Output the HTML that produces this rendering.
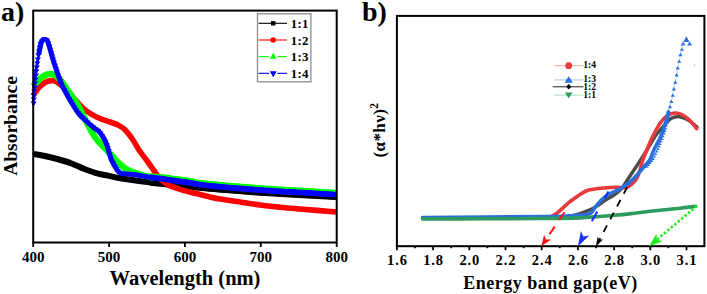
<!DOCTYPE html>
<html><head><meta charset="utf-8"><style>
html,body{margin:0;padding:0;background:#fff;}
svg{display:block;}
</style></head><body>
<svg width="707" height="294" viewBox="0 0 707 294">
<rect width="707" height="294" fill="#fff"/>
<text x="1" y="20.5" font-family="Liberation Serif, serif" font-weight="bold" font-size="28">a)</text>
<path d="M33.40,154.00 C35.10,154.28 39.63,154.87 43.60,155.70 C47.57,156.53 52.65,157.75 57.20,159.00 C61.75,160.25 66.35,161.53 70.90,163.20 C75.45,164.87 79.97,167.25 84.50,169.00 C89.03,170.75 94.18,172.60 98.10,173.70 C102.02,174.80 104.73,174.92 108.00,175.60 C111.27,176.28 114.53,177.20 117.70,177.80 C120.87,178.40 123.15,178.63 127.00,179.20 C130.85,179.77 136.97,180.68 140.80,181.20 C144.63,181.72 146.20,181.90 150.00,182.30 C153.80,182.70 159.07,183.15 163.60,183.60 C168.13,184.05 170.30,184.28 177.20,185.00 C184.10,185.72 190.37,186.63 205.00,187.90 C219.63,189.17 243.17,191.15 265.00,192.60 C286.83,194.05 324.17,195.93 336.00,196.60" fill="none" stroke="#000" stroke-width="6" stroke-linejoin="round" stroke-linecap="butt"/>
<path d="M150.00,182.30 C152.27,182.52 159.07,183.15 163.60,183.60 C168.13,184.05 170.30,184.28 177.20,185.00 C184.10,185.72 190.37,186.63 205.00,187.90 C219.63,189.17 243.17,191.15 265.00,192.60 C286.83,194.05 324.17,195.93 336.00,196.60" fill="none" stroke="#000" stroke-width="6.8" stroke-linejoin="round" stroke-linecap="butt"/>
<path d="M33.00,96.00 C33.92,94.67 36.50,90.25 38.50,88.00 C40.50,85.75 42.92,83.73 45.00,82.50 C47.08,81.27 49.17,80.77 51.00,80.60 C52.83,80.43 54.17,80.60 56.00,81.50 C57.83,82.40 60.00,84.25 62.00,86.00 C64.00,87.75 66.17,90.08 68.00,92.00 C69.83,93.92 71.33,95.67 73.00,97.50 C74.67,99.33 76.33,101.25 78.00,103.00 C79.67,104.75 81.27,106.45 83.00,108.00 C84.73,109.55 86.23,110.83 88.40,112.30 C90.57,113.77 93.57,115.58 96.00,116.80 C98.43,118.02 100.67,118.73 103.00,119.60 C105.33,120.47 107.50,121.10 110.00,122.00 C112.50,122.90 115.50,123.70 118.00,125.00 C120.50,126.30 122.50,127.30 125.00,129.80 C127.50,132.30 130.67,136.63 133.00,140.00 C135.33,143.37 136.58,146.42 139.00,150.00 C141.42,153.58 144.67,157.58 147.50,161.50 C150.33,165.42 153.92,170.67 156.00,173.50 C158.08,176.33 158.00,176.62 160.00,178.50 C162.00,180.38 164.67,183.00 168.00,184.80 C171.33,186.60 176.33,188.10 180.00,189.30 C183.67,190.50 186.67,191.13 190.00,192.00 C193.33,192.87 196.67,193.68 200.00,194.50 C203.33,195.32 206.67,196.15 210.00,196.90 C213.33,197.65 215.00,198.15 220.00,199.00 C225.00,199.85 233.33,201.00 240.00,202.00 C246.67,203.00 253.33,204.13 260.00,205.00 C266.67,205.87 273.33,206.53 280.00,207.20 C286.67,207.87 290.67,208.20 300.00,209.00 C309.33,209.80 330.00,211.50 336.00,212.00" fill="none" stroke="#ff0000" stroke-width="5.6" stroke-linejoin="round" stroke-linecap="butt"/>
<path d="M33.00,86.00 C33.40,85.62 34.08,85.03 35.40,83.70 C36.72,82.37 38.85,79.57 40.90,78.00 C42.95,76.43 45.93,74.97 47.70,74.30 C49.47,73.63 50.28,73.83 51.50,74.00 C52.72,74.17 53.53,74.32 55.00,75.30 C56.47,76.28 58.28,77.53 60.30,79.90 C62.32,82.27 64.83,86.32 67.10,89.50 C69.37,92.68 72.08,96.33 73.90,99.00 C75.72,101.67 76.82,103.50 78.00,105.50 C79.18,107.50 80.13,109.25 81.00,111.00 C81.87,112.75 82.45,114.50 83.20,116.00 C83.95,117.50 84.70,118.53 85.50,120.00 C86.30,121.47 86.97,122.87 88.00,124.80 C89.03,126.73 90.42,129.40 91.70,131.60 C92.98,133.80 94.48,136.27 95.70,138.00 C96.92,139.73 97.78,140.63 99.00,142.00 C100.22,143.37 101.42,144.53 103.00,146.20 C104.58,147.87 106.83,150.20 108.50,152.00 C110.17,153.80 111.50,155.33 113.00,157.00 C114.50,158.67 115.33,160.00 117.50,162.00 C119.67,164.00 123.08,167.17 126.00,169.00 C128.92,170.83 132.50,172.05 135.00,173.00 C137.50,173.95 138.50,174.07 141.00,174.70 C143.50,175.33 146.23,176.27 150.00,176.80 C153.77,177.33 159.07,177.38 163.60,177.90 C168.13,178.42 172.67,179.27 177.20,179.90 C181.73,180.53 186.17,181.02 190.80,181.70 C195.43,182.38 192.63,182.77 205.00,184.00 C217.37,185.23 243.17,187.55 265.00,189.10 C286.83,190.65 324.17,192.60 336.00,193.30" fill="none" stroke="#00ff00" stroke-width="6.4" stroke-linejoin="round" stroke-linecap="butt"/>
<path d="M150.00,176.80 C152.27,176.98 159.07,177.38 163.60,177.90 C168.13,178.42 172.67,179.27 177.20,179.90 C181.73,180.53 186.17,181.02 190.80,181.70 C195.43,182.38 192.63,182.77 205.00,184.00 C217.37,185.23 243.17,187.55 265.00,189.10 C286.83,190.65 324.17,192.60 336.00,193.30" fill="none" stroke="#00ff00" stroke-width="7.2" stroke-linejoin="round" stroke-linecap="butt"/>
<polygon points="30.5,101.5 36.7,101.5 33.6,106.1" fill="#0000ff"/>
<polygon points="30.7,97.5 36.9,97.5 33.8,102.1" fill="#0000ff"/>
<polygon points="31.0,93.5 37.2,93.5 34.1,98.1" fill="#0000ff"/>
<polygon points="31.3,89.5 37.5,89.5 34.4,94.1" fill="#0000ff"/>
<polygon points="31.7,85.5 37.9,85.5 34.8,90.1" fill="#0000ff"/>
<polygon points="32.1,81.5 38.3,81.5 35.2,86.1" fill="#0000ff"/>
<polygon points="32.5,77.5 38.7,77.5 35.6,82.1" fill="#0000ff"/>
<polygon points="32.9,73.5 39.1,73.5 36.0,78.1" fill="#0000ff"/>
<polygon points="33.3,69.5 39.5,69.5 36.4,74.1" fill="#0000ff"/>
<polygon points="33.8,65.5 40.0,65.5 36.9,70.1" fill="#0000ff"/>
<polygon points="34.3,61.5 40.5,61.5 37.4,66.1" fill="#0000ff"/>
<polygon points="34.8,57.5 41.0,57.5 37.9,62.1" fill="#0000ff"/>
<polygon points="35.4,53.5 41.6,53.5 38.5,58.1" fill="#0000ff"/>
<polygon points="36.1,49.5 42.3,49.5 39.2,54.1" fill="#0000ff"/>
<polygon points="36.8,45.5 43.0,45.5 39.9,50.1" fill="#0000ff"/>
<polygon points="37.6,41.8 43.8,41.8 40.7,46.4" fill="#0000ff"/>
<path d="M33.30,105.00 C33.38,102.83 33.58,96.17 33.80,92.00 C34.02,87.83 34.30,83.33 34.60,80.00 C34.90,76.67 35.20,74.67 35.60,72.00 C36.00,69.33 36.47,66.93 37.00,64.00 C37.53,61.07 38.22,57.48 38.80,54.40 C39.38,51.32 40.22,46.98 40.50,45.50" fill="none" stroke="#0000ff" stroke-width="2.6"/>
<path d="M38.80,54.40 C39.08,52.92 40.00,47.68 40.50,45.50 C41.00,43.32 41.30,42.27 41.80,41.30 C42.30,40.33 42.75,39.97 43.50,39.70 C44.25,39.43 45.57,39.28 46.30,39.70 C47.03,40.12 47.15,40.20 47.90,42.20 C48.65,44.20 49.87,48.53 50.80,51.70 C51.73,54.87 52.70,58.57 53.50,61.20 C54.30,63.83 54.82,65.12 55.60,67.50 C56.38,69.88 57.25,72.80 58.20,75.50 C59.15,78.20 60.10,80.97 61.30,83.70 C62.50,86.43 63.82,88.95 65.40,91.90 C66.98,94.85 68.62,97.82 70.80,101.40 C72.98,104.98 75.88,110.05 78.50,113.40 C81.12,116.75 83.80,119.00 86.50,121.50 C89.20,124.00 92.62,126.73 94.70,128.40 C96.78,130.07 97.62,130.07 99.00,131.50 C100.38,132.93 101.75,134.92 103.00,137.00 C104.25,139.08 105.62,141.83 106.50,144.00 C107.38,146.17 107.75,148.17 108.30,150.00 C108.85,151.83 109.27,153.30 109.80,155.00 C110.33,156.70 110.30,157.75 111.50,160.20 C112.70,162.65 115.42,167.52 117.00,169.70 C118.58,171.88 118.17,172.48 121.00,173.30 C123.83,174.12 129.17,173.92 134.00,174.60 C138.83,175.28 145.07,176.67 150.00,177.40 C154.93,178.13 159.07,178.38 163.60,179.00 C168.13,179.62 172.67,180.45 177.20,181.10 C181.73,181.75 186.17,182.20 190.80,182.90 C195.43,183.60 192.63,184.05 205.00,185.30 C217.37,186.55 243.17,188.85 265.00,190.40 C286.83,191.95 324.17,193.90 336.00,194.60" fill="none" stroke="#0000ff" stroke-width="5.0" stroke-linejoin="round" stroke-linecap="butt"/>
<polygon points="36.5,49.1 42.3,49.1 39.4,53.5" fill="#0000ff"/>
<polygon points="37.1,46.0 42.9,46.0 40.0,50.4" fill="#0000ff"/>
<polygon points="37.8,42.7 43.6,42.7 40.7,47.1" fill="#0000ff"/>
<polygon points="38.8,39.6 44.6,39.6 41.7,44.0" fill="#0000ff"/>
<polygon points="41.2,37.6 47.0,37.6 44.1,42.0" fill="#0000ff"/>
<polygon points="44.2,38.4 50.0,38.4 47.1,42.8" fill="#0000ff"/>
<polygon points="45.4,41.5 51.2,41.5 48.3,45.9" fill="#0000ff"/>
<polygon points="46.4,44.6 52.2,44.6 49.3,49.0" fill="#0000ff"/>
<polygon points="47.3,47.8 53.1,47.8 50.2,52.2" fill="#0000ff"/>
<polygon points="48.3,51.0 54.1,51.0 51.2,55.4" fill="#0000ff"/>
<polygon points="49.2,54.3 55.0,54.3 52.1,58.7" fill="#0000ff"/>
<polygon points="50.0,57.4 55.8,57.4 52.9,61.8" fill="#0000ff"/>
<polygon points="51.0,60.6 56.8,60.6 53.9,65.0" fill="#0000ff"/>
<polygon points="52.1,63.7 57.9,63.7 55.0,68.1" fill="#0000ff"/>
<polygon points="53.1,66.9 58.9,66.9 56.0,71.3" fill="#0000ff"/>
<polygon points="54.1,70.1 59.9,70.1 57.0,74.5" fill="#0000ff"/>
<polygon points="55.2,73.2 61.0,73.2 58.1,77.6" fill="#0000ff"/>
<polygon points="56.2,76.3 62.0,76.3 59.1,80.7" fill="#0000ff"/>
<polygon points="57.4,79.3 63.2,79.3 60.3,83.7" fill="#0000ff"/>
<polygon points="58.7,82.4 64.5,82.4 61.6,86.8" fill="#0000ff"/>
<polygon points="60.1,85.4 65.9,85.4 63.0,89.8" fill="#0000ff"/>
<polygon points="61.6,88.3 67.4,88.3 64.5,92.7" fill="#0000ff"/>
<polygon points="63.1,91.1 68.9,91.1 66.0,95.5" fill="#0000ff"/>
<polygon points="64.7,94.0 70.5,94.0 67.6,98.4" fill="#0000ff"/>
<polygon points="66.4,96.9 72.2,96.9 69.3,101.3" fill="#0000ff"/>
<polygon points="68.1,99.8 73.9,99.8 71.0,104.2" fill="#0000ff"/>
<polygon points="69.8,102.7 75.6,102.7 72.7,107.1" fill="#0000ff"/>
<polygon points="71.6,105.6 77.4,105.6 74.5,110.0" fill="#0000ff"/>
<polygon points="73.4,108.4 79.2,108.4 76.3,112.8" fill="#0000ff"/>
<polygon points="75.4,111.2 81.2,111.2 78.3,115.6" fill="#0000ff"/>
<polygon points="77.6,113.8 83.4,113.8 80.5,118.2" fill="#0000ff"/>
<polygon points="80.0,116.3 85.8,116.3 82.9,120.7" fill="#0000ff"/>
<polygon points="82.4,118.5 88.2,118.5 85.3,122.9" fill="#0000ff"/>
<polygon points="84.9,120.7 90.7,120.7 87.8,125.1" fill="#0000ff"/>
<polygon points="87.5,123.0 93.3,123.0 90.4,127.4" fill="#0000ff"/>
<polygon points="90.0,125.1 95.8,125.1 92.9,129.5" fill="#0000ff"/>
<polygon points="92.7,127.1 98.5,127.1 95.6,131.5" fill="#0000ff"/>
<polygon points="95.4,129.0 101.2,129.0 98.3,133.4" fill="#0000ff"/>
<polygon points="97.6,131.4 103.4,131.4 100.5,135.8" fill="#0000ff"/>
<polygon points="99.5,134.2 105.3,134.2 102.4,138.6" fill="#0000ff"/>
<polygon points="101.1,136.9 106.9,136.9 104.0,141.3" fill="#0000ff"/>
<polygon points="102.6,139.8 108.4,139.8 105.5,144.2" fill="#0000ff"/>
<polygon points="103.9,142.9 109.7,142.9 106.8,147.3" fill="#0000ff"/>
<polygon points="104.9,146.1 110.7,146.1 107.8,150.5" fill="#0000ff"/>
<polygon points="105.8,149.3 111.6,149.3 108.7,153.7" fill="#0000ff"/>
<polygon points="106.7,152.5 112.5,152.5 109.6,156.9" fill="#0000ff"/>
<polygon points="107.6,155.7 113.4,155.7 110.5,160.1" fill="#0000ff"/>
<polygon points="108.8,158.7 114.6,158.7 111.7,163.1" fill="#0000ff"/>
<polygon points="110.3,161.5 116.1,161.5 113.2,165.9" fill="#0000ff"/>
<polygon points="112.0,164.5 117.8,164.5 114.9,168.9" fill="#0000ff"/>
<polygon points="113.7,167.3 119.5,167.3 116.6,171.7" fill="#0000ff"/>
<polygon points="115.9,169.7 121.7,169.7 118.8,174.1" fill="#0000ff"/>
<path d="M150.00,177.40 C152.27,177.67 159.07,178.38 163.60,179.00 C168.13,179.62 172.67,180.45 177.20,181.10 C181.73,181.75 186.17,182.20 190.80,182.90 C195.43,183.60 192.63,184.05 205.00,185.30 C217.37,186.55 243.17,188.85 265.00,190.40 C286.83,191.95 324.17,193.90 336.00,194.60" fill="none" stroke="#0000ff" stroke-width="5.8" stroke-linejoin="round" stroke-linecap="butt"/>
<rect x="33.2" y="10.6" width="303.5" height="231.9" fill="none" stroke="#000" stroke-width="2"/>
<line x1="33.2" y1="242.5" x2="33.2" y2="247.0" stroke="#000" stroke-width="1.8"/>
<text x="33.2" y="261.8" font-family="Liberation Serif, serif" font-weight="bold" font-size="15" text-anchor="middle">400</text>
<line x1="109.1" y1="242.5" x2="109.1" y2="247.0" stroke="#000" stroke-width="1.8"/>
<text x="109.1" y="261.8" font-family="Liberation Serif, serif" font-weight="bold" font-size="15" text-anchor="middle">500</text>
<line x1="184.9" y1="242.5" x2="184.9" y2="247.0" stroke="#000" stroke-width="1.8"/>
<text x="184.9" y="261.8" font-family="Liberation Serif, serif" font-weight="bold" font-size="15" text-anchor="middle">600</text>
<line x1="260.8" y1="242.5" x2="260.8" y2="247.0" stroke="#000" stroke-width="1.8"/>
<text x="260.8" y="261.8" font-family="Liberation Serif, serif" font-weight="bold" font-size="15" text-anchor="middle">700</text>
<line x1="336.7" y1="242.5" x2="336.7" y2="247.0" stroke="#000" stroke-width="1.8"/>
<text x="336.7" y="261.8" font-family="Liberation Serif, serif" font-weight="bold" font-size="15" text-anchor="middle">800</text>
<text x="185" y="284.5" font-family="Liberation Serif, serif" font-weight="bold" font-size="20.5" text-anchor="middle">Wavelength (nm)</text>
<text transform="translate(17.4,126) rotate(-90)" font-family="Liberation Serif, serif" font-weight="bold" font-size="19.5" text-anchor="middle">Absorbance</text>
<rect x="257.5" y="13.8" width="53.4" height="68" fill="#fff" stroke="#8c8c8c" stroke-width="1.3"/>
<line x1="258.6" y1="23.3" x2="273.2" y2="23.3" stroke="#000" stroke-width="1.1"/>
<line x1="273.2" y1="23.3" x2="287" y2="23.3" stroke="#000" stroke-width="1.1"/>
<rect x="271.0" y="21.1" width="4.4" height="4.4" fill="#000"/>
<text x="290.8" y="27.8" font-family="Liberation Serif, serif" font-weight="bold" font-size="12.8" letter-spacing="0.3">1:1</text>
<line x1="258.6" y1="40" x2="273.2" y2="40" stroke="#ff0000" stroke-width="1.1"/>
<line x1="273.2" y1="40" x2="287" y2="40" stroke="#ff0000" stroke-width="1.1"/>
<circle cx="273.2" cy="40" r="2.8" fill="#ff0000"/>
<text x="290.8" y="44.5" font-family="Liberation Serif, serif" font-weight="bold" font-size="12.8" letter-spacing="0.3">1:2</text>
<line x1="258.6" y1="56.6" x2="269.09999999999997" y2="56.6" stroke="#00ff00" stroke-width="1.1"/>
<line x1="277.3" y1="56.6" x2="287" y2="56.6" stroke="#00ff00" stroke-width="1.1"/>
<polygon points="269.7,58.7 276.7,58.7 273.2,53.1" fill="#00ff00"/>
<text x="290.8" y="61.1" font-family="Liberation Serif, serif" font-weight="bold" font-size="12.8" letter-spacing="0.3">1:3</text>
<line x1="258.6" y1="73.3" x2="269.09999999999997" y2="73.3" stroke="#0000ff" stroke-width="1.1"/>
<line x1="277.3" y1="73.3" x2="287" y2="73.3" stroke="#0000ff" stroke-width="1.1"/>
<polygon points="269.7,71.2 276.7,71.2 273.2,77.2" fill="#0000ff"/>
<text x="290.8" y="77.8" font-family="Liberation Serif, serif" font-weight="bold" font-size="12.8" letter-spacing="0.3">1:4</text>
<text x="362" y="20.5" font-family="Liberation Serif, serif" font-weight="bold" font-size="28">b)</text>
<path d="M422.60,218.00 C444.67,217.93 531.10,217.80 555.00,217.60 C578.90,217.40 562.83,217.18 566.00,216.80 C569.17,216.42 571.67,215.85 574.00,215.30 C576.33,214.75 578.00,214.15 580.00,213.50 C582.00,212.85 584.05,212.15 586.00,211.40 C587.95,210.65 590.03,209.82 591.70,209.00 C593.37,208.18 594.62,207.33 596.00,206.50 C597.38,205.67 598.28,205.17 600.00,204.00 C601.72,202.83 604.30,200.78 606.30,199.50 C608.30,198.22 610.18,197.43 612.00,196.30 C613.82,195.17 615.42,194.22 617.20,192.70 C618.98,191.18 620.90,189.48 622.70,187.20 C624.50,184.92 626.28,181.62 628.00,179.00 C629.72,176.38 631.33,174.00 633.00,171.50 C634.67,169.00 636.42,166.42 638.00,164.00 C639.58,161.58 641.00,159.33 642.50,157.00 C644.00,154.67 645.55,152.33 647.00,150.00 C648.45,147.67 649.82,145.33 651.20,143.00 C652.58,140.67 653.92,138.00 655.30,136.00 C656.68,134.00 658.12,132.67 659.50,131.00 C660.88,129.33 662.27,127.58 663.60,126.00 C664.93,124.42 666.27,122.75 667.50,121.50 C668.73,120.25 669.75,119.25 671.00,118.50 C672.25,117.75 673.53,117.28 675.00,117.00 C676.47,116.72 678.02,116.50 679.80,116.80 C681.58,117.10 683.72,117.85 685.70,118.80 C687.68,119.75 689.82,121.13 691.70,122.50 C693.58,123.87 696.12,126.25 697.00,127.00" fill="none" stroke="#4b4b4b" stroke-width="3.4" stroke-linecap="round" stroke-linejoin="round"/>
<path d="M422.60,218.00 C442.17,217.93 519.10,217.73 540.00,217.60 C560.90,217.47 545.83,217.53 548.00,217.20 C550.17,216.87 551.33,216.42 553.00,215.60 C554.67,214.78 556.33,213.60 558.00,212.30 C559.67,211.00 561.02,209.58 563.00,207.80 C564.98,206.02 568.03,203.13 569.90,201.60 C571.77,200.07 572.60,199.73 574.20,198.60 C575.80,197.47 577.70,195.98 579.50,194.80 C581.30,193.62 583.25,192.33 585.00,191.50 C586.75,190.67 588.17,190.25 590.00,189.80 C591.83,189.35 594.17,189.07 596.00,188.80 C597.83,188.53 598.67,188.42 601.00,188.20 C603.33,187.98 607.30,187.63 610.00,187.50 C612.70,187.37 614.87,187.38 617.20,187.40 C619.53,187.42 622.12,187.73 624.00,187.60 C625.88,187.47 627.08,187.28 628.50,186.60 C629.92,185.92 631.25,184.68 632.50,183.50 C633.75,182.32 634.95,181.17 636.00,179.50 C637.05,177.83 637.97,175.67 638.80,173.50 C639.63,171.33 640.33,168.75 641.00,166.50 C641.67,164.25 641.82,162.75 642.80,160.00 C643.78,157.25 645.53,153.33 646.90,150.00 C648.27,146.67 649.57,143.17 651.00,140.00 C652.43,136.83 653.90,133.92 655.50,131.00 C657.10,128.08 658.72,125.00 660.60,122.50 C662.48,120.00 664.50,117.58 666.80,116.00 C669.10,114.42 671.87,113.25 674.40,113.00 C676.93,112.75 679.45,113.28 682.00,114.50 C684.55,115.72 687.27,117.93 689.70,120.30 C692.13,122.67 695.45,127.30 696.60,128.70" fill="none" stroke="#e8393d" stroke-width="3.6" stroke-linecap="round" stroke-linejoin="round"/>
<path d="M422.60,217.50 C443.00,217.35 520.43,216.88 545.00,216.60 C569.57,216.32 563.33,216.10 570.00,215.80 C576.67,215.50 581.83,215.10 585.00,214.80 C588.17,214.50 587.83,214.47 589.00,214.00 C590.17,213.53 590.95,213.17 592.00,212.00 C593.05,210.83 593.78,208.97 595.30,207.00 C596.82,205.03 599.17,202.13 601.10,200.20 C603.03,198.27 604.97,196.72 606.90,195.40 C608.83,194.08 610.85,193.22 612.70,192.30 C614.55,191.38 616.38,190.72 618.00,189.90 C619.62,189.08 620.57,188.55 622.40,187.40 C624.23,186.25 627.12,184.48 629.00,183.00 C630.88,181.52 631.87,180.42 633.70,178.50 C635.53,176.58 638.12,173.67 640.00,171.50 C641.88,169.33 643.33,167.50 645.00,165.50 C646.67,163.50 648.53,162.08 650.00,159.50 C651.47,156.92 652.30,153.25 653.80,150.00 C655.30,146.75 657.55,143.00 659.00,140.00 C660.45,137.00 661.42,134.83 662.50,132.00 C663.58,129.17 664.65,125.83 665.50,123.00 C666.35,120.17 667.13,116.83 667.60,115.00 C668.07,113.17 668.18,112.50 668.30,112.00" fill="none" stroke="#2a6fdc" stroke-width="3.6" stroke-linecap="round" stroke-linejoin="round"/>
<polyline points="668.7,111.3 669.9,106.7 671.4,101.4 672.7,95.3 673.9,88.9 675.3,82.2 676.6,75.0 677.8,67.9 679.2,61.3 680.4,54.7 681.9,49.3" fill="none" stroke="#8fb4ee" stroke-width="0.6"/>
<polygon points="666.6,112.8 670.8,112.8 668.7,109.4" fill="#2a6fdc"/>
<polygon points="667.8,108.2 672.0,108.2 669.9,104.8" fill="#2a6fdc"/>
<polygon points="669.3,102.9 673.5,102.9 671.4,99.5" fill="#2a6fdc"/>
<polygon points="670.6,96.8 674.8,96.8 672.7,93.4" fill="#2a6fdc"/>
<polygon points="671.8,90.4 676.0,90.4 673.9,87.0" fill="#2a6fdc"/>
<polygon points="673.2,83.7 677.4,83.7 675.3,80.3" fill="#2a6fdc"/>
<polygon points="674.5,76.5 678.7,76.5 676.6,73.1" fill="#2a6fdc"/>
<polygon points="675.7,69.4 679.9,69.4 677.8,66.0" fill="#2a6fdc"/>
<polygon points="677.1,62.8 681.3,62.8 679.2,59.4" fill="#2a6fdc"/>
<polygon points="678.3,56.2 682.5,56.2 680.4,52.8" fill="#2a6fdc"/>
<polygon points="679.8,50.8 684.0,50.8 681.9,47.4" fill="#2a6fdc"/>
<polygon points="683.3,41.9 689.5,41.9 686.4,36.2" fill="#2a6fdc"/><polygon points="680.6,45.4 685.5,45.4 683.05,41.6" fill="#2a6fdc"/><polygon points="687.1,45.4 692.1,45.4 689.6,41.6" fill="#2a6fdc"/>
<polyline points="681.9,49.3 683,43.6" stroke="#8fb4ee" stroke-width="0.6"/>
<polygon points="667.6,115.4 671.0,115.4 669.0,112.7" fill="#2a6fdc"/>
<polygon points="667.0,118.4 670.4,118.4 668.4,115.7" fill="#2a6fdc"/>
<polygon points="666.3,121.4 669.7,121.4 667.7,118.7" fill="#2a6fdc"/>
<polygon points="665.5,123.9 668.9,123.9 666.9,121.2" fill="#2a6fdc"/>
<polygon points="664.8,126.4 668.2,126.4 666.2,123.7" fill="#2a6fdc"/>
<polygon points="664.0,129.4 667.4,129.4 665.4,126.7" fill="#2a6fdc"/>
<polygon points="663.2,131.9 666.6,131.9 664.6,129.2" fill="#2a6fdc"/>
<polygon points="662.4,134.4 665.8,134.4 663.8,131.7" fill="#2a6fdc"/>
<polygon points="661.4,137.4 664.8,137.4 662.8,134.7" fill="#2a6fdc"/>
<polygon points="660.4,139.9 663.8,139.9 661.8,137.2" fill="#2a6fdc"/>
<polygon points="659.3,142.4 662.7,142.4 660.7,139.7" fill="#2a6fdc"/>
<polygon points="658.4,144.9 661.8,144.9 659.8,142.2" fill="#2a6fdc"/>
<polygon points="657.4,147.4 660.8,147.4 658.8,144.7" fill="#2a6fdc"/>
<polygon points="656.3,149.9 659.7,149.9 657.7,147.2" fill="#2a6fdc"/>
<polygon points="655.1,152.4 658.5,152.4 656.5,149.7" fill="#2a6fdc"/>
<polygon points="654.0,154.9 657.4,154.9 655.4,152.2" fill="#2a6fdc"/>
<polygon points="652.8,157.4 656.2,157.4 654.2,154.7" fill="#2a6fdc"/>
<polygon points="651.5,159.9 654.9,159.9 652.9,157.2" fill="#2a6fdc"/>
<polygon points="650.1,161.9 653.5,161.9 651.5,159.2" fill="#2a6fdc"/>
<polygon points="648.5,164.0 651.9,164.0 649.9,161.3" fill="#2a6fdc"/>
<polygon points="646.8,165.9 650.2,165.9 648.2,163.2" fill="#2a6fdc"/>
<polygon points="645.1,167.7 648.5,167.7 646.5,165.0" fill="#2a6fdc"/>
<path d="M422.60,219.00 C432.17,218.97 460.43,218.88 480.00,218.80 C499.57,218.72 523.33,218.65 540.00,218.50 C556.67,218.35 570.50,218.22 580.00,217.90 C589.50,217.58 591.33,217.03 597.00,216.60 C602.67,216.17 608.33,215.80 614.00,215.30 C619.67,214.80 625.35,214.23 631.00,213.60 C636.65,212.97 642.25,212.15 647.90,211.50 C653.55,210.85 659.23,210.28 664.90,209.70 C670.57,209.12 676.78,208.57 681.90,208.00 C687.02,207.43 693.32,206.58 695.60,206.30" fill="none" stroke="#2e9b5e" stroke-width="3.6" stroke-linecap="round" stroke-linejoin="round"/>
<circle cx="694.5" cy="65.2" r="0.6" fill="#6a9be0"/>
<rect x="396.9" y="15.9" width="307.5" height="230.29999999999998" fill="none" stroke="#000" stroke-width="2"/>
<line x1="564.4" y1="212.2" x2="546.01" y2="239.46" stroke="#ff1010" stroke-width="2.0" stroke-dasharray="9.3,7.9" stroke-linecap="butt"/><polygon points="541.4,246.3 544.03,234.80 546.01,239.46 551.07,239.56" fill="#ff1010"/>
<line x1="608.4" y1="191.6" x2="583.28" y2="236.58" stroke="#1a2eff" stroke-width="2.1" stroke-dasharray="7.5,15.4,11,40" stroke-linecap="butt"/><polygon points="577.8,246.4 580.97,230.99 583.28,236.58 589.26,235.62" fill="#1a2eff"/>
<line x1="627.2" y1="187.2" x2="599.30" y2="240.07" stroke="#000" stroke-width="1.8" stroke-dasharray="7.4,7" stroke-linecap="butt"/><polygon points="595.8,246.7 597.73,236.41 599.30,240.07 603.21,239.30" fill="#000"/>
<line x1="696.8" y1="206" x2="656.94" y2="239.67" stroke="#19ee19" stroke-width="2.6" stroke-dasharray="2.4,2.1" stroke-linecap="butt"/><polygon points="649.2,246.2 656.42,233.82 656.94,239.67 662.61,241.16" fill="#19ee19"/>
<line x1="396.9" y1="246.2" x2="396.9" y2="250.2" stroke="#000" stroke-width="1.8"/>
<text x="397.4" y="265.2" font-family="Liberation Serif, serif" font-weight="bold" font-size="14.5" letter-spacing="0.9" text-anchor="middle">1.6</text>
<line x1="415.0" y1="246.2" x2="415.0" y2="248.2" stroke="#000" stroke-width="1.8"/>
<line x1="433.1" y1="246.2" x2="433.1" y2="250.2" stroke="#000" stroke-width="1.8"/>
<text x="433.6" y="265.2" font-family="Liberation Serif, serif" font-weight="bold" font-size="14.5" letter-spacing="0.9" text-anchor="middle">1.8</text>
<line x1="451.2" y1="246.2" x2="451.2" y2="248.2" stroke="#000" stroke-width="1.8"/>
<line x1="469.3" y1="246.2" x2="469.3" y2="250.2" stroke="#000" stroke-width="1.8"/>
<text x="469.8" y="265.2" font-family="Liberation Serif, serif" font-weight="bold" font-size="14.5" letter-spacing="0.9" text-anchor="middle">2.0</text>
<line x1="487.4" y1="246.2" x2="487.4" y2="248.2" stroke="#000" stroke-width="1.8"/>
<line x1="505.5" y1="246.2" x2="505.5" y2="250.2" stroke="#000" stroke-width="1.8"/>
<text x="506.0" y="265.2" font-family="Liberation Serif, serif" font-weight="bold" font-size="14.5" letter-spacing="0.9" text-anchor="middle">2.2</text>
<line x1="523.6" y1="246.2" x2="523.6" y2="248.2" stroke="#000" stroke-width="1.8"/>
<line x1="541.7" y1="246.2" x2="541.7" y2="250.2" stroke="#000" stroke-width="1.8"/>
<text x="542.2" y="265.2" font-family="Liberation Serif, serif" font-weight="bold" font-size="14.5" letter-spacing="0.9" text-anchor="middle">2.4</text>
<line x1="559.8" y1="246.2" x2="559.8" y2="248.2" stroke="#000" stroke-width="1.8"/>
<line x1="577.9" y1="246.2" x2="577.9" y2="250.2" stroke="#000" stroke-width="1.8"/>
<text x="578.4" y="265.2" font-family="Liberation Serif, serif" font-weight="bold" font-size="14.5" letter-spacing="0.9" text-anchor="middle">2.6</text>
<line x1="596.0" y1="246.2" x2="596.0" y2="248.2" stroke="#000" stroke-width="1.8"/>
<line x1="614.1" y1="246.2" x2="614.1" y2="250.2" stroke="#000" stroke-width="1.8"/>
<text x="614.6" y="265.2" font-family="Liberation Serif, serif" font-weight="bold" font-size="14.5" letter-spacing="0.9" text-anchor="middle">2.8</text>
<line x1="632.2" y1="246.2" x2="632.2" y2="248.2" stroke="#000" stroke-width="1.8"/>
<line x1="650.3" y1="246.2" x2="650.3" y2="250.2" stroke="#000" stroke-width="1.8"/>
<text x="650.8" y="265.2" font-family="Liberation Serif, serif" font-weight="bold" font-size="14.5" letter-spacing="0.9" text-anchor="middle">3.0</text>
<line x1="668.4" y1="246.2" x2="668.4" y2="248.2" stroke="#000" stroke-width="1.8"/>
<line x1="686.5" y1="246.2" x2="686.5" y2="250.2" stroke="#000" stroke-width="1.8"/>
<text x="687.0" y="265.2" font-family="Liberation Serif, serif" font-weight="bold" font-size="14.5" letter-spacing="0.9" text-anchor="middle">3.1</text>
<text x="550.5" y="288.6" font-family="Liberation Serif, serif" font-weight="bold" font-size="18" letter-spacing="0.5" text-anchor="middle">Energy band gap(eV)</text>
<text transform="translate(384.6,130.3) rotate(-90)" font-family="Liberation Serif, serif" font-weight="bold" font-size="17" letter-spacing="0.4" text-anchor="middle">(α*hν)<tspan font-size="11.5" dy="-7" letter-spacing="0">2</tspan></text>
<line x1="554.2" y1="65.7" x2="583.5" y2="65.7" stroke="#f4a3a3" stroke-width="1"/>
<circle cx="568.7" cy="65.7" r="3.4" fill="#e8393d"/>
<text x="583.3" y="68.3" font-family="Liberation Serif, serif" font-weight="bold" font-size="9.6">1:4</text>
<line x1="554.2" y1="79.9" x2="583.5" y2="79.9" stroke="#a3c2f0" stroke-width="1"/>
<polygon points="564.5,82.80000000000001 572.9000000000001,82.80000000000001 568.7,76.30000000000001" fill="#2a6fdc"/>
<text x="583.3" y="81.80000000000001" font-family="Liberation Serif, serif" font-weight="bold" font-size="9.6">1:3</text>
<line x1="552.7" y1="86.8" x2="583.5" y2="86.8" stroke="#222" stroke-width="1"/>
<polygon points="566.0,86.8 568.7,84.1 571.4000000000001,86.8 568.7,89.5" fill="#000"/>
<text x="583.3" y="89.6" font-family="Liberation Serif, serif" font-weight="bold" font-size="9.6">1:2</text>
<line x1="554.2" y1="95.1" x2="583.5" y2="95.1" stroke="#a6dcb8" stroke-width="1"/>
<polygon points="564.8000000000001,92.5 572.6,92.5 568.7,98.3" fill="#2e9b5e"/>
<text x="583.3" y="98.0" font-family="Liberation Serif, serif" font-weight="bold" font-size="9.6">1:1</text>
</svg>
</body></html>
